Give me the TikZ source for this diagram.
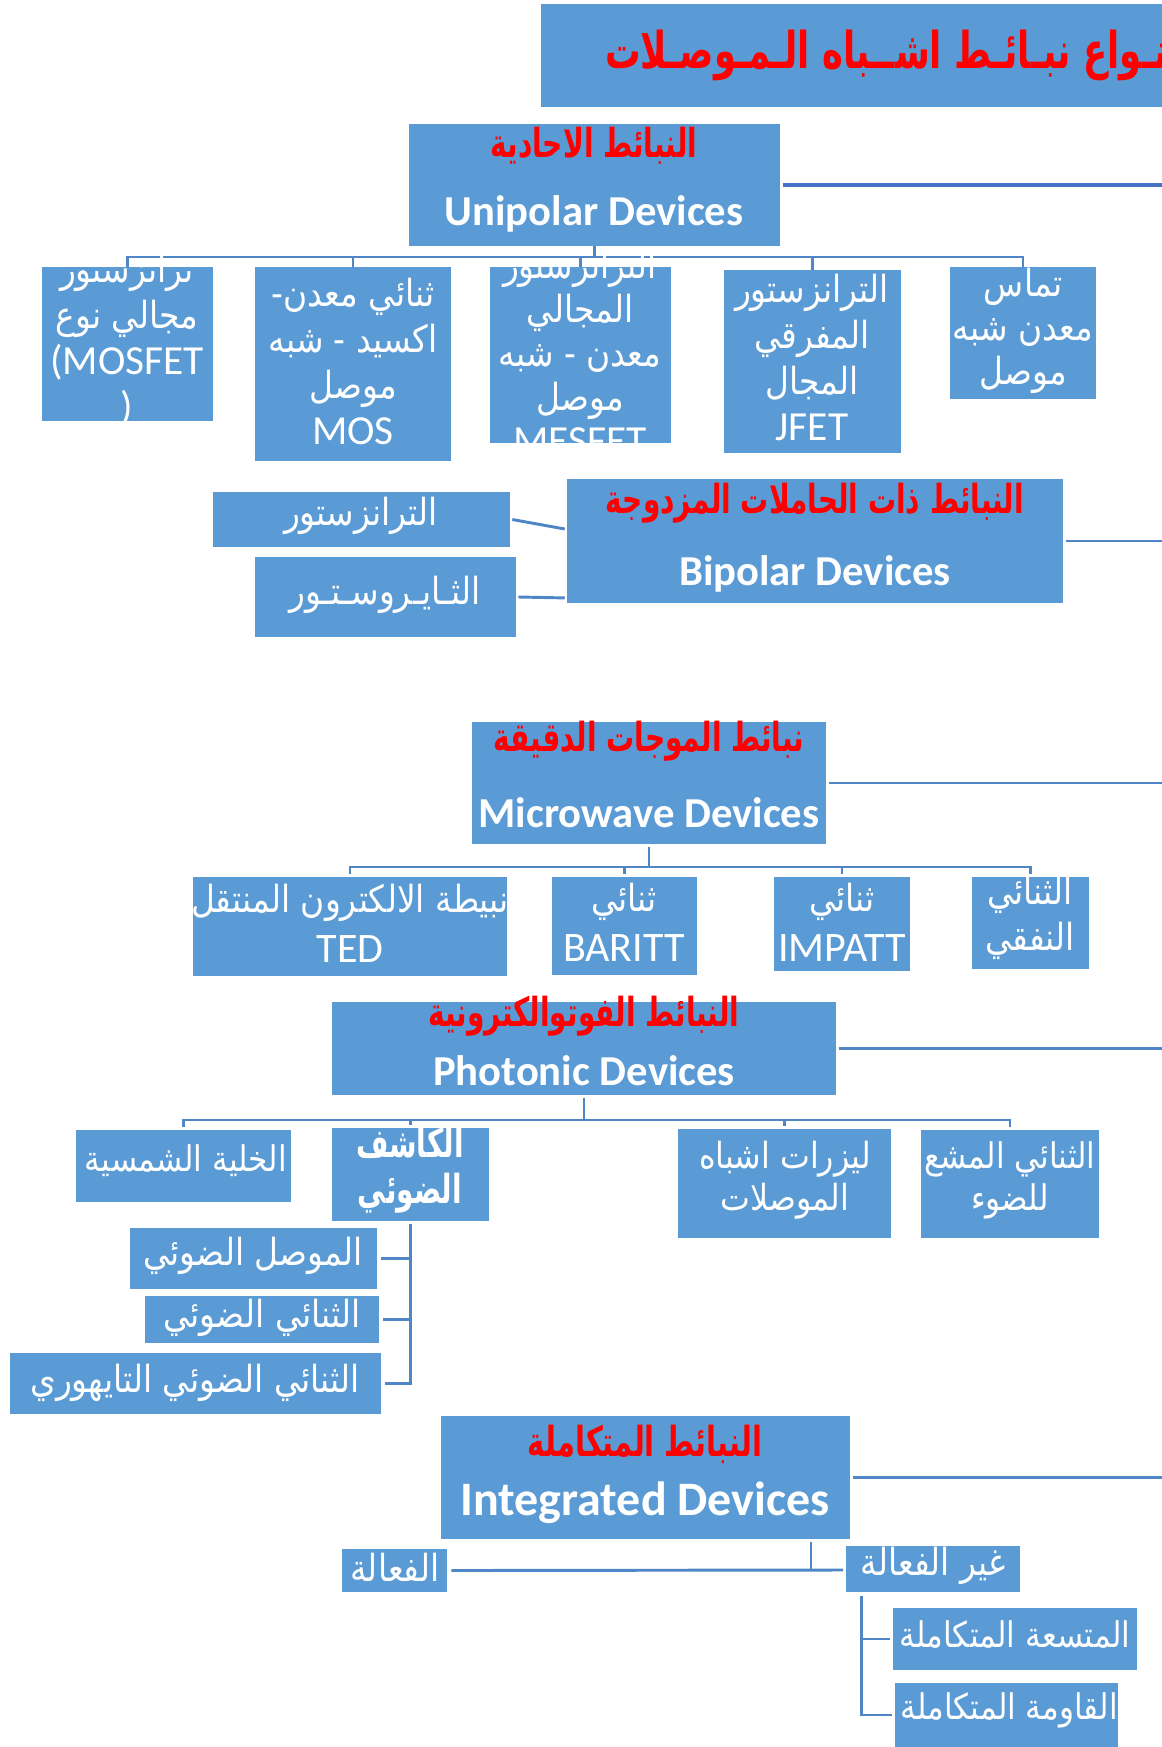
\documentclass[tikz,border=0pt]{standalone}
\usepackage{fontspec}
\setmainfont{Carlito}
\newfontfamily\arabfont[Script=Arabic,FakeStretch=0.88]{DejaVu Sans}
\newfontfamily\arabhead[Script=Arabic,FakeStretch=0.7]{DejaVu Sans Bold}
\TeXXeTstate=1
\usetikzlibrary{fit,calc}
\definecolor{boxblue}{HTML}{5B9BD5}
\definecolor{lineblue}{HTML}{4F86C6}
\definecolor{darkline}{HTML}{4472C4}
\definecolor{headred}{HTML}{FF0000}
\newcommand{\artxt}[1]{{\arabfont\beginR #1\endR}}
\newcommand{\arb}[1]{{\arabhead\beginR #1\endR}}
\begin{document}
\begin{tikzpicture}[x=0.75pt,y=-0.75pt,
  box/.style={fill=boxblue, draw=none, inner sep=0pt},
  txt/.style={text=white, align=center, inner sep=0pt, font=\fontsize{28}{34.5}\selectfont},
  smtxt/.style={txt, font=\fontsize{26.5}{31.5}\selectfont},
  head/.style={text=white, inner sep=0pt, font=\bfseries\fontsize{32}{36}\selectfont},
  redhead/.style={text=headred, inner sep=0pt, font=\fontsize{30}{34}\selectfont},
  conn/.style={draw=lineblue, line width=2.2pt},
  hline/.style={draw=lineblue, line width=2.2pt},
]
\useasboundingbox (0,0) rectangle (1162,1747);
\fill[white] (0,0) rectangle (1162,1747);
\coordinate (edge) at (1175,0);

% ---------- title ----------
\node[box, fit={(541,4)(1200,107)}] (title) {};
\node[redhead, font=\fontsize{38}{42}\selectfont, anchor=east] (t-title) at (1180,50) {\arb{أنـواع نبـائـط اشــباه الـمـوصـلات}};

% ---------- unipolar ----------
\node[box, fit={(409,124)(780,246)}] (uni) {};
\node[redhead] (t-uni1) at (594,146) {\arb{النبائط الاحادية}};
\node[head] (t-uni2) at (594,214) {Unipolar Devices};
\draw[draw=darkline, line width=2.4pt] (uni.east) ++(3,0) -- (uni.east -| edge);

\node[box, fit={(42,267)(213,421)}] (mosfet) {};
\node[box, fit={(255,267)(451,461)}] (mos) {};
\node[box, fit={(490,267)(671,443)}] (mesfet) {};
\node[box, fit={(724,270)(901,453)}] (jfet) {};
\node[box, fit={(950,267)(1096,399)}] (tamas) {};
\coordinate (ubus) at (0,257);
\foreach \c in {mosfet,mos,mesfet,jfet,tamas}
  \draw[conn] (uni.south) |- (\c.north |- ubus) -- (\c.north);

\node[txt] (t-mosfet) at (127,340) {\artxt{ترانزستور}\\\artxt{مجالي نوع}\\{\fontsize{31}{34.5}\selectfont(MOSFET}\\{\fontsize{31}{34.5}\selectfont)}};
\node[txt] (t-mos) at (353,361) {\artxt{ثنائي معدن-}\\\artxt{اكسيد - شبه}\\\artxt{موصل}\\{\fontsize{31}{34.5}\selectfont MOS}};
\node[txt, font=\fontsize{28}{33}\selectfont] (t-mesfet) at (580,352) {\artxt{الترانزستور}\\\artxt{المجالي}\\\artxt{معدن - شبه}\\\artxt{موصل}\\{\fontsize{31}{33}\selectfont MESFET}};
\node[txt] (t-jfet) at (812,357) {\artxt{الترانزستور}\\\artxt{المفرقي}\\\artxt{المجال}\\{\fontsize{31}{34.5}\selectfont JFET}};
\node[txt, font=\fontsize{28}{33}\selectfont] (t-tamas) at (1023,331) {\artxt{تماس}\\\artxt{معدن شبه}\\\artxt{موصل}};

% ---------- bipolar ----------
\node[box, fit={(567,479)(1063,603)}] (bip) {};
\node[redhead] (t-bip1) at (815,503) {\arb{النبائط ذات الحاملات المزدوجة}};
\node[head] (t-bip2) at (815,574) {Bipolar Devices};
\draw[hline] (bip.east) ++(3,0) -- (bip.east -| edge);
\node[box, fit={(213,492)(510,547)}] (trans) {};
\node[txt] (t-trans) at (361,516) {\artxt{الترانزستور}};
\node[box, fit={(255,557)(516,637)}] (thy) {};
\node[txt] (t-thy) at (385,595) {\artxt{الثـايـروسـتـور}};
\draw[conn] ([xshift=1.5pt]trans.east) -- ([yshift=9pt,xshift=-1.5pt]bip.west);
\draw[conn] ([xshift=1.5pt]thy.east) -- ([yshift=4pt,xshift=-1.5pt]bip.south west);

% ---------- microwave ----------
\node[box, fit={(472,722)(826,844)}] (mw) {};
\node[redhead] (t-mw1) at (649,741) {\arb{نبائط الموجات الدقيقة}};
\node[head] (t-mw2) at (649,813) {Microwave Devices};
\draw[hline] (mw.east) ++(3,0) -- (mw.east -| edge);
\node[box, fit={(193,877)(507,976)}] (ted) {};
\node[box, fit={(552,877)(697,975)}] (baritt) {};
\node[box, fit={(774,877)(910,971)}] (impatt) {};
\node[box, fit={(972,877)(1089,969)}] (tunnel) {};
\coordinate (mbus) at (0,867);
\foreach \c in {ted,baritt,impatt,tunnel}
  \draw[conn] ([yshift=-2pt]mw.south) |- (\c.north |- mbus) -- ([yshift=2pt]\c.north);
\node[txt, font=\fontsize{28}{37.5}\selectfont] (t-ted) at (350,923) {\artxt{نبيطة الالكترون المنتقل}\\{\fontsize{31.5}{37.5}\selectfont TED}};
\node[txt, font=\fontsize{28}{37.5}\selectfont] (t-baritt) at (624,922) {\artxt{ثنائي}\\{\fontsize{31.5}{37.5}\selectfont BARITT}};
\node[txt, font=\fontsize{28}{37.5}\selectfont] (t-impatt) at (842,922) {\artxt{ثنائي}\\{\fontsize{31.5}{37.5}\selectfont IMPATT}};
\node[txt, font=\fontsize{28}{34}\selectfont] (t-tunnel) at (1030,918) {\artxt{الثنائي}\\\artxt{النفقي}};

% ---------- photonic ----------
\node[box, fit={(332,1002)(836,1095)}] (ph) {};
\node[redhead] (t-ph1) at (584,1016) {\arb{النبائط الفوتوالكترونية}};
\node[head] (t-ph2) at (584,1071) {Photonic Devices};
\draw[hline] (ph.east) ++(3,0) -- (ph.east -| edge);
\node[box, fit={(76,1130)(291,1202)}] (solar) {};
\node[box, fit={(332,1128)(489,1221)}] (kashif) {};
\node[box, fit={(678,1129)(891,1238)}] (laser) {};
\node[box, fit={(921,1130)(1099,1238)}] (led) {};
\coordinate (pbus) at (0,1120);
\foreach \c in {solar,kashif,laser,led}
  \draw[conn] ([yshift=-2pt]ph.south) |- (\c.north |- pbus) -- ([yshift=2pt]\c.north);
\node[smtxt] (t-solar) at (186,1161) {\artxt{الخلية الشمسية}};
\node[txt, font=\fontsize{30}{34.5}\selectfont] (t-kashif) at (410,1170) {\arb{الكاشف}\\\arb{الضوئي}};
\node[smtxt, font=\fontsize{27}{31.5}\selectfont] (t-laser) at (785,1180) {\artxt{ليزرات اشباه}\\\artxt{الموصلات}};
\node[smtxt] (t-led) at (1010,1180) {\artxt{الثنائي المشع}\\\artxt{للضوء}};

\node[box, fit={(130,1228)(377,1289)}] (pc) {};
\node[box, fit={(145,1296)(379,1343)}] (pd) {};
\node[box, fit={(10,1353)(381,1414)}] (apd) {};
\foreach \c in {pc,pd,apd}
  \draw[conn] ([yshift=-2pt]kashif.south) |- ([xshift=2.5pt]\c.east);
\node[txt] (t-pc) at (253,1256) {\artxt{الموصل الضوئي}};
\node[txt] (t-pd) at (262,1318) {\artxt{الثنائي الضوئي}};
\node[txt] (t-apd) at (195,1383) {\artxt{الثنائي الضوئي التايهوري}};

% ---------- integrated ----------
\node[box, fit={(441,1416)(850,1539)}] (integ) {};
\node[redhead, font=\fontsize{31}{34}\selectfont] (t-int1) at (645,1444) {\arb{النبائط المتكاملة}};
\node[head, font=\bfseries\fontsize{36}{40}\selectfont] (t-int2) at (645,1503) {Integrated Devices};
\draw[hline] (integ.east) ++(3,0) -- (integ.east -| edge);
\node[box, fit={(342,1549)(447,1592)}] (active) {};
\node[box, fit={(846,1546)(1020,1592)}] (nonact) {};
\node[box, fit={(893,1608)(1137,1670)}] (mutas) {};
\node[box, fit={(895,1683)(1118,1770)}] (qawma) {};
\coordinate (ij) at (811,1570);
\draw[conn] ([xshift=3pt]active.east) -- ([xshift=-2pt]nonact.west |- ij);
\draw[conn] ([yshift=-2pt]integ.south -| ij) -- (ij);
\draw[conn] ([xshift=12pt,yshift=-3pt]nonact.south west) |- ([xshift=-2pt]mutas.west);
\draw[conn] ([xshift=12pt,yshift=-3pt]nonact.south west) |- ([xshift=-2pt]qawma.west |- 0,1715);
\node[txt] (t-active) at (395,1567) {\artxt{الفعالة}};
\node[txt] (t-nonact) at (933,1566) {\artxt{غير الفعالة}};
\node[smtxt] (t-mutas) at (1015,1634) {\artxt{المتسعة المتكاملة}};
\node[smtxt] (t-qawma) at (1009,1710) {\artxt{القاومة المتكاملة}};
\end{tikzpicture}
\end{document}
